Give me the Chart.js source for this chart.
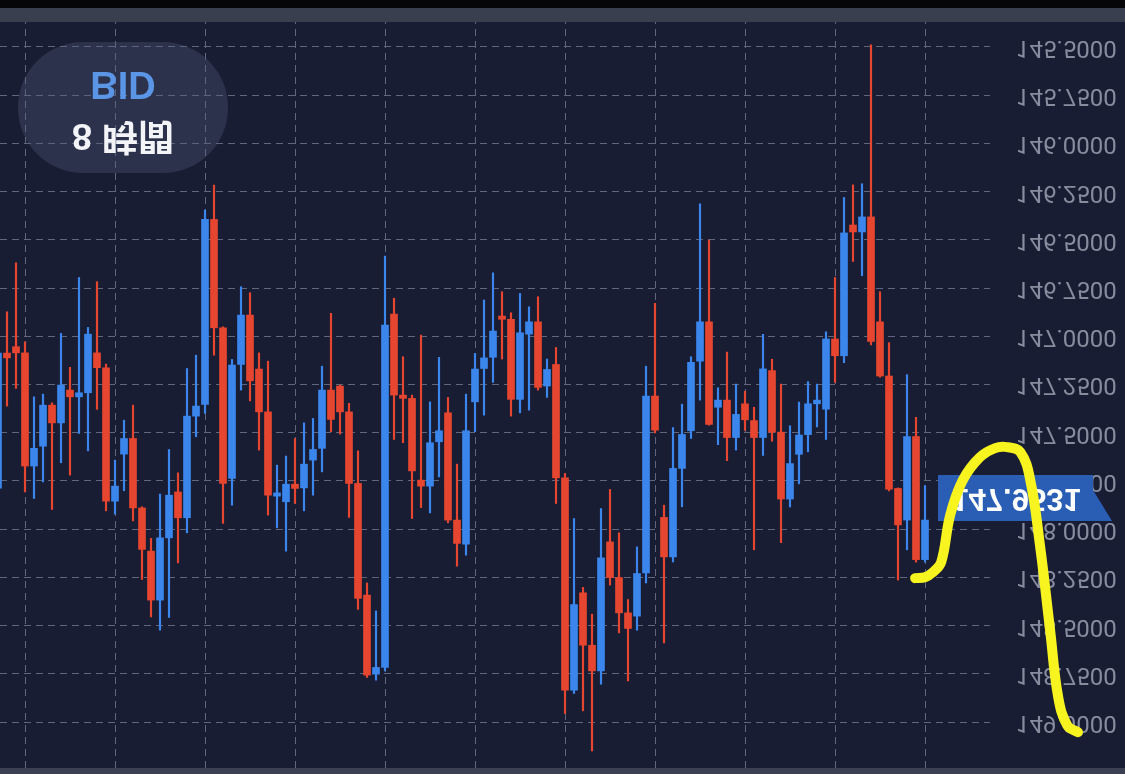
<!DOCTYPE html>
<html>
<head>
<meta charset="utf-8">
<title>BID 8時間</title>
<script src="https://cdn.jsdelivr.net/npm/chart.js@4/dist/chart.umd.min.js"></script>
<style>
  html, body { margin: 0; padding: 0; width: 1125px; height: 774px; overflow: hidden; background: #191d34; }
  #topEdge { position: absolute; left: 0; top: 0; width: 1125px; height: 8px; background: #060608; }
  #topBar { position: absolute; left: 0; top: 8px; width: 1125px; height: 14px; background: #3a3f50; }
  #bottomBar { position: absolute; left: 0; top: 768px; width: 1125px; height: 6px; background: #3b4152; }
  /* the reference is a vertically mirrored screenshot */
  #wrap { position: absolute; left: 0; top: 22px; width: 1125px; height: 746px; transform: scaleY(-1); }
</style>
</head>
<body>
<div id="topEdge"></div>
<div id="topBar"></div>
<div id="wrap"><canvas id="chart" width="1125" height="746"></canvas></div>
<div id="bottomBar"></div>
<script>

/********** DATA **********/

// candle positions (bar index), first one is cut by the left edge
const firstIndex = -1

const opens = [147.787, 147.087, 147.054, 147.086, 147.673, 147.570, 147.357, 147.449, 147.279, 147.314,
  147.293, 147.086, 147.163, 147.855, 147.611, 147.530, 147.890, 148.114, 148.368, 148.045,
  147.807, 147.941, 147.414, 147.353, 146.394, 146.956, 147.737, 147.146, 146.890, 147.170,
  147.392, 147.829, 147.858, 147.767, 147.786, 147.642, 147.581, 147.279, 147.258, 147.392,
  147.763, 148.342, 148.752, 148.717, 146.885, 147.305, 147.322, 147.746, 147.777, 147.547,
  147.397, 147.953, 148.078, 147.340, 147.167, 147.109, 146.895, 146.912, 147.327, 146.989,
  146.925, 147.258, 147.146, 147.734, 148.835, 148.330, 148.602, 148.735, 148.066, 148.251,
  148.434, 148.451, 148.227, 147.310, 147.939, 148.144, 147.685, 147.490, 147.129, 146.925,
  147.368, 147.331, 147.525, 147.350, 147.437, 147.525, 147.178, 147.497, 147.844, 147.612,
  147.510, 147.350, 147.378, 147.014, 147.101, 146.423, 146.459, 146.381, 146.925, 147.206,
  147.789, 147.953, 147.520, 148.158]

const highs = [147.824, 147.362, 147.270, 147.807, 147.841, 147.755, 147.898, 147.656, 147.720, 147.504,
  147.594, 147.379, 147.905, 147.922, 147.801, 147.957, 148.261, 148.455, 148.524, 148.458,
  148.175, 148.019, 147.521, 147.400, 147.098, 147.970, 147.876, 147.279, 147.335, 147.590,
  147.927, 147.993, 148.114, 147.867, 147.905, 147.824, 147.703, 147.495, 147.507, 147.939,
  148.416, 148.769, 148.783, 148.735, 147.535, 147.552, 147.945, 147.888, 147.916, 147.729,
  147.967, 148.192, 148.135, 147.495, 147.409, 147.239, 147.118, 147.414, 147.397, 147.383,
  147.279, 147.317, 147.867, 148.956, 148.852, 148.942, 149.150, 148.804, 148.290, 148.538,
  148.787, 148.524, 148.279, 147.501, 148.590, 148.170, 147.884, 147.530, 147.331, 147.461,
  147.562, 147.645, 147.590, 147.488, 148.107, 147.618, 147.544, 148.070, 147.885, 147.765,
  147.599, 147.470, 147.535, 147.239, 147.137, 146.612, 146.686, 147.045, 147.212, 147.802,
  148.264, 148.107, 148.171, 148.171]

const lows = [147.046, 146.873, 146.619, 147.029, 147.314, 147.300, 147.345, 146.985, 147.161, 146.695,
  146.954, 146.717, 147.144, 147.642, 147.435, 147.357, 147.884, 148.048, 147.818, 147.587,
  147.708, 147.167, 147.098, 146.345, 146.216, 146.951, 147.120, 146.743, 146.774, 147.086,
  147.129, 147.668, 147.621, 147.530, 147.449, 147.426, 147.155, 146.881, 147.253, 147.348,
  147.594, 148.279, 148.424, 146.584, 146.803, 147.106, 147.305, 146.994, 147.340, 147.109,
  147.317, 147.663, 147.300, 147.089, 146.812, 146.671, 146.769, 146.878, 146.778, 146.847,
  146.795, 147.118, 147.058, 147.711, 147.945, 148.302, 148.441, 147.893, 147.794, 148.019,
  148.365, 148.092, 147.155, 146.829, 147.876, 147.473, 147.352, 147.106, 146.313, 146.501,
  147.267, 147.082, 147.248, 147.285, 147.368, 146.990, 147.119, 147.248, 147.464, 147.341,
  147.235, 147.248, 146.977, 146.695, 146.280, 146.215, 146.209, 145.489, 146.769, 147.033,
  147.786, 147.199, 147.420, 147.774]

const closes = [147.087, 147.112, 147.086, 147.673, 147.581, 147.357, 147.449, 147.253, 147.314, 147.293,
  146.989, 147.163, 147.855, 147.777, 147.530, 147.890, 148.105, 148.368, 148.045, 147.824,
  147.941, 147.414, 147.362, 146.394, 146.956, 147.763, 147.149, 146.890, 147.231, 147.392,
  147.824, 147.812, 147.767, 147.789, 147.663, 147.587, 147.279, 147.431, 147.392, 147.763,
  148.359, 148.757, 148.717, 146.942, 147.305, 147.322, 147.698, 147.777, 147.552, 147.490,
  147.953, 148.074, 147.490, 147.170, 147.112, 146.973, 146.912, 147.327, 146.982, 146.925,
  147.265, 147.172, 147.734, 148.835, 148.391, 148.602, 148.735, 148.149, 148.251, 148.434,
  148.515, 148.230, 147.310, 147.487, 148.144, 147.685, 147.509, 147.135, 146.925, 147.457,
  147.331, 147.525, 147.405, 147.433, 147.525, 147.169, 147.497, 147.844, 147.660, 147.512,
  147.350, 147.331, 147.014, 147.101, 146.464, 146.459, 146.381, 147.027, 147.206, 147.793,
  147.978, 147.520, 148.158, 147.953]

// price axis
const tickValues = [145.50, 145.75, 146.00, 146.25, 146.50, 146.75, 147.00,
  147.25, 147.50, 147.75, 148.00, 148.25, 148.50, 148.75, 149.00]
const yMin = 145.3704
const yMax = 149.2385

// bar index range and vertical grid positions
const xMin = -0.7778
const xMax = 109.2222
const gridIndex = [2, 12, 22, 32, 42, 52, 62, 72, 82, 92, 102]

// current price tag
const lastPrice = 147.9531
const priceText = '147.9531'

// yellow hand drawn mark (bar index / price)
const markIndex = [100.9, 102.0, 102.9, 103.8, 104.8, 106.2, 108.1, 109.8, 111.1, 112.6, 113.7, 114.8, 115.9, 116.8, 117.8, 119.0]
const markPrice = [148.254, 148.249, 148.223, 148.171, 147.927, 147.746, 147.627, 147.580, 147.575, 147.601, 147.746, 148.093, 148.524, 148.871, 149.017, 149.053]

/********** STYLE **********/

const UP = '#e6452f'
const DOWN = '#3b86ec'
const GRID = '#60667c'

const candleColors = opens.map((o, i) => closes[i] >= o ? UP : DOWN)
const bodies = opens.map((o, i) => ({ x: firstIndex + i, y: [o, closes[i]] }))
const wicks = lows.map((l, i) => ({ x: firstIndex + i, y: [l, highs[i]] }))
const mark = markIndex.map((x, i) => ({ x: x, y: markPrice[i] }))

/********** OVERLAY (badge + price tag) **********/

const overlay = {
  id: 'overlay',
  beforeDatasetsDraw: (chart) => {
    const ctx = chart.ctx
    const area = chart.chartArea
    const py = chart.scales.y.getPixelForValue(lastPrice)

    ctx.save()

    // badge
    ctx.fillStyle = 'rgba(86, 94, 124, 0.33)'
    ctx.beginPath()
    ctx.roundRect(area.left + 18, area.bottom - 151, 210, 131, 65)
    ctx.fill()
    ctx.textAlign = 'center'
    ctx.textBaseline = 'middle'
    ctx.font = 'bold 38px "Liberation Sans", Arial, sans-serif'
    ctx.fillStyle = '#5b95e6'
    ctx.fillText('BID', area.left + 123, area.bottom - 60)
    ctx.font = 'bold 36px "Liberation Sans", "Noto Sans CJK JP", sans-serif'
    ctx.fillStyle = '#f3f4f8'
    ctx.fillText('8 時間', area.left + 123, area.bottom - 112)

    // price tag
    ctx.fillStyle = '#2a5db4'
    ctx.beginPath()
    ctx.moveTo(938, py - 1)
    ctx.lineTo(1112, py - 1)
    ctx.lineTo(1093, py + 30)
    ctx.lineTo(1093, py + 45)
    ctx.lineTo(938, py + 45)
    ctx.closePath()
    ctx.fill()
    ctx.font = 'bold 31px "Liberation Sans", Arial, sans-serif'
    ctx.fillStyle = '#ffffff'
    ctx.fillText(priceText, 1016, py + 23)

    ctx.restore()
  }
}

/********** CHART **********/

new Chart(document.getElementById('chart'), {
  type: 'bar',
  data: {
    datasets: [
      {
        type: 'line',
        label: 'mark',
        data: mark,
        borderColor: '#f7f41f',
        borderWidth: 10,
        borderCapStyle: 'round',
        borderJoinStyle: 'round',
        pointRadius: 0,
        tension: 0.4,
        clip: false,
        order: 0
      },
      {
        label: 'body',
        data: bodies,
        backgroundColor: candleColors,
        barThickness: 7,
        minBarLength: 2,
        grouped: false,
        order: 1
      },
      {
        label: 'wick',
        data: wicks,
        backgroundColor: candleColors,
        barThickness: 1.5,
        grouped: false,
        order: 2
      }
    ]
  },
  options: {
    responsive: false,
    animation: false,
    devicePixelRatio: 1,
    layout: { padding: 0 },
    plugins: { legend: { display: false }, tooltip: { enabled: false } },
    scales: {
      x: {
        type: 'linear',
        bounds: 'data',
        offset: false,
        // range set here (not min/max) so the mark is not cut at the right edge
        afterDataLimits: (s) => { s.min = xMin; s.max = xMax },
        afterBuildTicks: (s) => { s.ticks = gridIndex.map(v => ({ value: v })) },
        ticks: { display: false },
        grid: { color: GRID, lineWidth: 1, drawTicks: false, offset: false },
        border: { display: false, dash: [7, 5] }
      },
      y: {
        type: 'linear',
        position: 'right',
        min: yMin,
        max: yMax,
        afterBuildTicks: (s) => { s.ticks = tickValues.map(v => ({ value: v })) },
        afterFit: (s) => { s.width = 135; s.paddingTop = 0; s.paddingBottom = 0 },
        ticks: {
          color: '#878c9e',
          padding: 26,
          font: { family: 'Roboto, "Liberation Sans", sans-serif', size: 24 },
          callback: (v) => Number(v).toFixed(4)
        },
        grid: { color: GRID, lineWidth: 1, drawTicks: false },
        border: { display: false, dash: [7, 5] }
      }
    }
  },
  plugins: [overlay]
})
</script>
</body>
</html>
